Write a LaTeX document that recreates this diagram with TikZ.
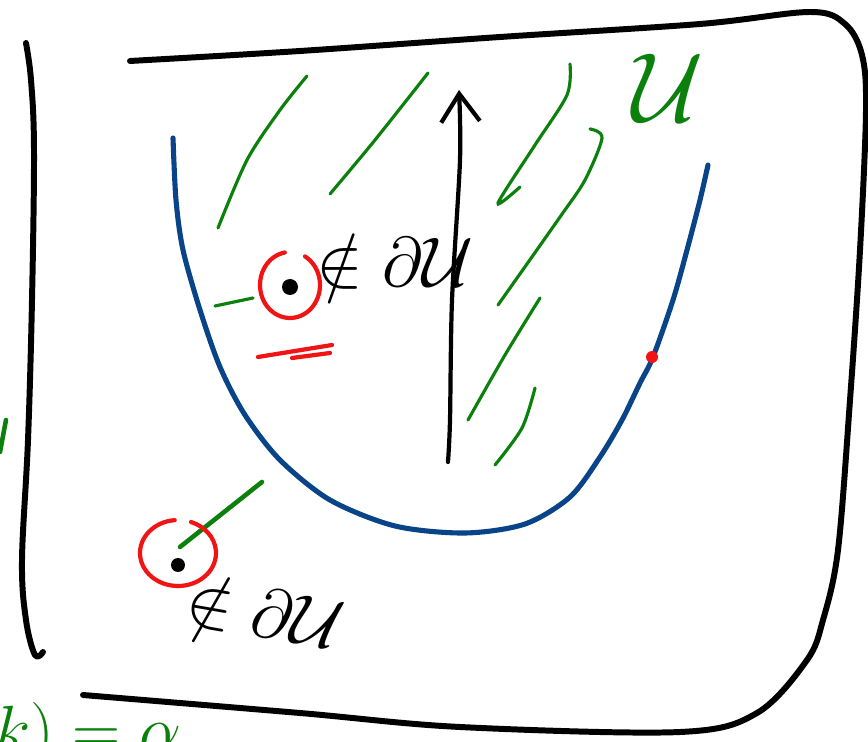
\RequirePackage{fix-cm}
\documentclass[tikz,border=0pt]{standalone}
\usepackage{amsmath,amssymb}
\usepackage{xcolor}
\usetikzlibrary{arrows.meta}

\definecolor{bdryblue}{RGB}{8,68,135}
\definecolor{hatchgreen}{RGB}{12,128,12}
\definecolor{ringred}{RGB}{240,20,20}

\tikzset{
	frameline/.style={line width=3.4pt,line cap=round,line join=round},
	bdryline/.style={draw=bdryblue,line width=2.9pt,line cap=round},
	hatch/.style={draw=hatchgreen,line width=1.8pt,line cap=round},
	ring/.style={draw=ringred,line width=2.4pt,line cap=round},
	sketchtext/.style={inner sep=0pt,font=\fontsize{40}{44}\selectfont}
}

\begin{document}
\begin{tikzpicture}[x=0.02cm,y=-0.02cm]
		
		\useasboundingbox (0,0) rectangle (868,742);
		
		\draw[frameline] plot[smooth,tension=0.6] coordinates {(26,43) (31,80) (34,150) (32,300) (28,440) (22,560) (26,620) (35,655) (43,652)};
		
		\draw[frameline] plot[smooth,tension=0.55] coordinates {(130,61) (300,51) (500,37) (700,24) (810,12) (845,24) (862,55) (866,110) (860,250) (850,400) (838,550) (823,620) (807,660) (757,713) (680,732) (460,727) (300,713) (83,695)};
		
		\draw[bdryline] plot[smooth] coordinates {(173,138) (176,200) (183,250) (200,310) (220,367) (245,415) (280,460) (330,500) (395,526) (465,533) (525,524) (570,497) (600,457) (622,420) (640,383) (653,357) (673,300) (687,250) (700,200) (708,165)};
		
		\draw[hatch] plot[smooth] coordinates {(218,228) (247,160) (280,110) (307,76)};
		\draw[hatch] plot[smooth] coordinates {(330,194) (375,140) (428,73)};
		\draw[hatch] plot[smooth] coordinates {(520,187) (498,203) (535,145) (567,95) (570,64)};
		\draw[hatch] plot[smooth] coordinates {(590,129) (602,138) (585,180) (560,217) (498,305)};
		\draw[hatch] plot[smooth] coordinates {(468,420) (505,355) (540,298)};
		\draw[hatch] plot[smooth] coordinates {(495,465) (522,428) (535,388)};
		\draw[hatch] (215,306) -- (253,298);
		\draw[hatch,line width=2.6pt] (180,547) -- (262,482);
		\draw[hatch,line width=2.6pt] (0,452) -- (6,420);
		
		\draw[line width=2.4pt,line cap=round,-{Straight Barb[length=16pt,width=22pt]}] plot[smooth] coordinates {(448,462) (450,420) (452,300) (460,160) (459,90)};
		
		\draw[ring] (290,285) ++(100:0.6cm and 0.66cm) arc[start angle=100,end angle=420,x radius=0.6cm,y radius=0.66cm];
		\fill (290,287) circle[radius=0.16cm];
		\draw[ring] (258,357) -- (332,345);
		\draw[ring] (292,358) -- (330,353);
		
		\draw[ring] (178,553) ++(95:0.76cm and 0.66cm) arc[start angle=95,end angle=430,x radius=0.76cm,y radius=0.66cm];
		\fill (178,565) circle[radius=0.14cm];
		
		\fill[ringred] (652,357) circle[radius=0.12cm];
		
		\node[sketchtext] (notin1) at (395,262) {$\notin\partial\mathcal{U}$};
		\node[sketchtext,rotate=-10] (notin2) at (265,612) {$\notin\partial\mathcal{U}$};
		\node[inner sep=0pt,text=hatchgreen,font=\fontsize{56}{62}\selectfont] (setU) at (668,88) {$\mathcal{U}$};
		\node[inner sep=0pt,text=hatchgreen,font=\fontsize{38}{42}\selectfont,anchor=base west] (eqcut) at (-6,752) {$k)=\alpha$};
		
	\end{tikzpicture}
\end{document}
